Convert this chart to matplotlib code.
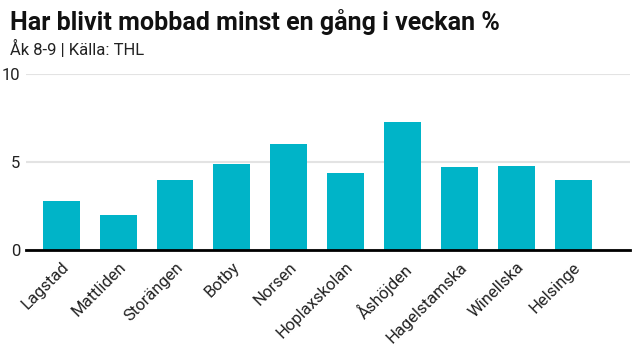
from matplotlib import pyplot as plt

plt.rcParams['font.family'] = ['Roboto', 'DejaVu Sans']

skolor = ['Lagstad', 'Mattliden', 'Storängen', 'Botby', 'Norsen',
          'Hoplaxskolan', 'Åshöjden', 'Hagelstamska', 'Winellska', 'Helsinge']
andel = [2.8, 2.0, 4.0, 4.9, 6.0, 4.4, 7.3, 4.7, 4.8, 4.0]
yticks = [0, 5, 10]

fig = plt.figure(figsize=(6.4, 3.6), dpi=100)
ax = fig.add_axes([26 / 640, 1 - 250 / 360, 604 / 640, 176 / 360])

ax.bar(range(len(skolor)), andel, width=0.65, color='#00b4c8', zorder=2)

ax.set_xlim(-0.62, 10.0)
ax.set_ylim(0, 10)
ax.set_yticks(yticks)
ax.set_yticklabels([str(t) for t in yticks], fontsize=12, color='#222222')
ax.grid(axis='y', color='#e3e3e3', linewidth=1.5, zorder=0)
ax.tick_params(axis='y', length=0, pad=4)
ax.tick_params(axis='x', length=0, pad=7)

ax.set_xticks(range(len(skolor)))
ax.set_xticklabels(skolor, rotation=45, ha='right', rotation_mode='anchor',
                   fontsize=12, color='#222222')

for s in ['top', 'right', 'left']:
    ax.spines[s].set_visible(False)
ax.spines['bottom'].set_linewidth(2)
ax.spines['bottom'].set_color('black')
ax.spines['bottom'].set_zorder(3)

# rubrik och källa
fig.text(10 / 640, 1 - 22 / 360, 'Har blivit mobbad minst en gång i veckan %',
         fontsize=18, fontweight='bold', va='center', color='#111111')
fig.text(10 / 640, 1 - 49 / 360, 'Åk 8-9 | Källa: THL',
         fontsize=12, va='center', color='#222222')

plt.savefig('out.png', dpi=100)
